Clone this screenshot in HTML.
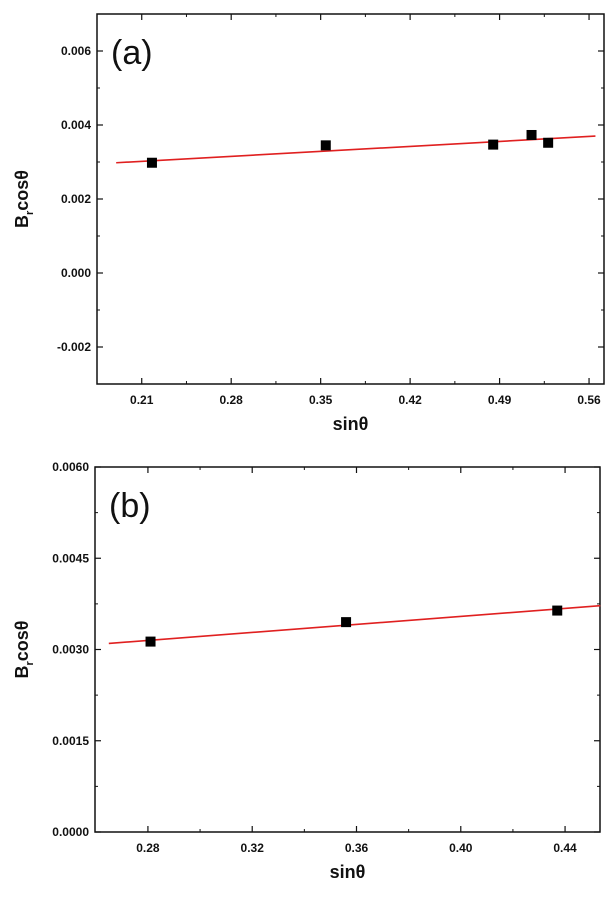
<!DOCTYPE html>
<html><head><meta charset="utf-8"><style>
body{margin:0;background:#fff;width:612px;height:898px;overflow:hidden}
svg{display:block}
text{font-family:"Liberation Sans",sans-serif}
.tk{font-size:12px;font-weight:bold;fill:#111}
.ax{font-size:18px;font-weight:bold;fill:#111}
</style></head><body>
<svg id="c" width="612" height="898"></svg>
<script>
// Panel (a)
const aX = [0.218, 0.354, 0.485, 0.515, 0.528];
const aY = [0.00298, 0.00345, 0.00347, 0.00373, 0.00352];
const aFit = [[0.19, 0.00298], [0.565, 0.00370]];
const aXTicks = [0.21, 0.28, 0.35, 0.42, 0.49, 0.56];
const aYTicks = [-0.002, 0.000, 0.002, 0.004, 0.006];
const aXLabels = ["0.21","0.28","0.35","0.42","0.49","0.56"];
const aYLabels = ["-0.002","0.000","0.002","0.004","0.006"];
// Panel (b)
const bX = [0.281, 0.356, 0.437];
const bY = [0.00313, 0.00345, 0.00364];
const bFit = [[0.265, 0.00310], [0.4535, 0.00372]];
const bXTicks = [0.28, 0.32, 0.36, 0.40, 0.44];
const bYTicks = [0.0000, 0.0015, 0.0030, 0.0045, 0.0060];
const bXLabels = ["0.28","0.32","0.36","0.40","0.44"];
const bYLabels = ["0.0000","0.0015","0.0030","0.0045","0.0060"];

const NS="http://www.w3.org/2000/svg";
const svg=document.getElementById('c');
function mk(tag,attrs,parent,text){const e=document.createElementNS(NS,tag);for(const k in attrs)e.setAttribute(k,attrs[k]);if(text!==undefined)e.textContent=text;(parent||svg).appendChild(e);return e;}

function panel(p){
  const g=mk('g',{});
  
  
  const sx=v=>p.L+(v-p.x0)/(p.x1-p.x0)*(p.R-p.L);
  const sy=v=>p.B-(v-p.y0)/(p.y1-p.y0)*(p.B-p.T);
  const fr=mk('rect',{x:p.L,y:p.T,width:p.R-p.L,height:p.B-p.T,fill:'none',stroke:'#111','stroke-width':1.5},g);
  
  
  p.xt.forEach((v,i)=>{
    const x=sx(v);
    mk('line',{x1:x,x2:x,y1:p.B,y2:p.B-6,stroke:'#111','stroke-width':1.2},g);
    mk('line',{x1:x,x2:x,y1:p.T,y2:p.T+6,stroke:'#111','stroke-width':1.2},g);
    const t=mk('text',{x:x,y:p.B+20,'text-anchor':'middle',class:'tk'},g,p.xl[i]);
    
    
    if(i<p.xt.length-1){const m=sx((v+p.xt[i+1])/2);
      mk('line',{x1:m,x2:m,y1:p.B,y2:p.B-3,stroke:'#111'},g);
      mk('line',{x1:m,x2:m,y1:p.T,y2:p.T+3,stroke:'#111'},g);}
  });
  p.yt.forEach((v,i)=>{
    const y=sy(v);
    mk('line',{x1:p.L,x2:p.L+6,y1:y,y2:y,stroke:'#111','stroke-width':1.2},g);
    mk('line',{x1:p.R,x2:p.R-6,y1:y,y2:y,stroke:'#111','stroke-width':1.2},g);
    const t=mk('text',{x:p.L-6,y:y+4,'text-anchor':'end',class:'tk'},g,p.yl[i]);
    
    
    const step=p.yt[1]-p.yt[0];
    [v-step/2,v+step/2].forEach(m=>{ if(m>p.y0&&m<p.y1&&(m>v||i===0)){const ym=sy(m);
      mk('line',{x1:p.L,x2:p.L+3,y1:ym,y2:ym,stroke:'#111'},g);
      mk('line',{x1:p.R,x2:p.R-3,y1:ym,y2:ym,stroke:'#111'},g);}});
  });
  const fl=mk('line',{x1:sx(p.fit[0][0]),y1:sy(p.fit[0][1]),x2:sx(p.fit[1][0]),y2:sy(p.fit[1][1]),stroke:'#e02020','stroke-width':1.6},g);
  
  
  p.xs.forEach((v,i)=>{
    const r=mk('rect',{x:sx(v)-5,y:sy(p.ys[i])-5,width:10,height:10,fill:'#000'},g);
    
    
  });
  const pl=mk('text',{x:p.L+14,y:p.T+50,style:'font-size:34px;fill:#111'},g,p.label);
  
  
  const xl=mk('text',{x:(p.L+p.R)/2,y:p.B+46,'text-anchor':'middle',class:'ax'},g,'sinθ');
  
  
  const cy=(p.T+p.B)/2;
  const yl=mk('text',{x:0,y:0,'text-anchor':'middle',class:'ax',transform:`translate(28,${cy}) rotate(-90)`},g);
  
  
  mk('tspan',{},yl,'B');
  mk('tspan',{dy:5,style:'font-size:11px'},yl,'r');
  mk('tspan',{dy:-5},yl,'cosθ');
}
panel({name:'panel-a',L:97,R:604,T:14,B:384,x0:0.175,x1:0.5717,y0:-0.003,y1:0.007,xs:aX,ys:aY,fit:aFit,xt:aXTicks,yt:aYTicks,xl:aXLabels,yl:aYLabels,label:'(a)'});
panel({name:'panel-b',L:95,R:600,T:467,B:832,x0:0.2597,x1:0.4534,y0:0,y1:0.006,xs:bX,ys:bY,fit:bFit,xt:bXTicks,yt:bYTicks,xl:bXLabels,yl:bYLabels,label:'(b)'});
</script>
</body></html>
